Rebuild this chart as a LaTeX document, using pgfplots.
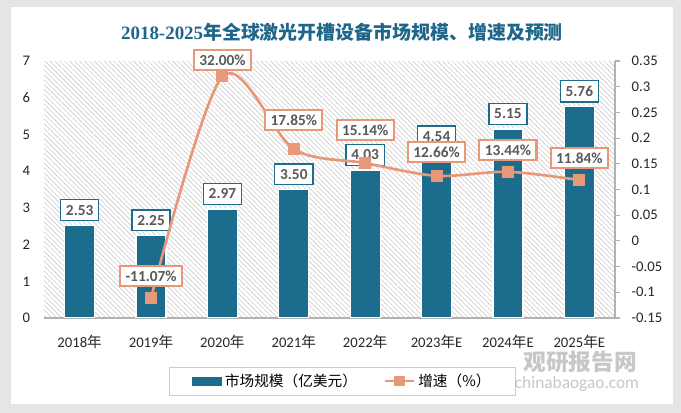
\documentclass[border=0pt]{standalone}
\usepackage{pgfplots}
\pgfplotsset{compat=1.18}
\usepackage{pgfplotstable}
\usetikzlibrary{patterns.meta}
\usepackage{fontspec}
\setmainfont{Carlito}
\newfontfamily\cjk{Noto Sans CJK SC}
\newfontfamily\tserif{Liberation Serif}
\definecolor{barc}{RGB}{28,108,142}
\definecolor{salm}{RGB}{232,152,120}
\definecolor{titlec}{RGB}{30,102,138}
\definecolor{labc}{RGB}{89,89,89}

\pgfplotstableread{
x v lab
0 2.53 2.53
1 2.25 2.25
2 2.97 2.97
3 3.50 3.50
4 4.03 4.03
5 4.54 4.54
6 5.15 5.15
7 5.76 5.76
}\bardata

\pgfplotstableread{
x g dy lab
1 -0.1107 16.5 -11.07\%
2 0.3200 12 32.00\%
3 0.1785 21.75 17.85\%
4 0.1514 24.75 15.14\%
5 0.1266 18 12.66\%
6 0.1344 16.5 13.44\%
7 0.1184 16.5 11.84\%
}\linedata

\begin{document}
\begin{tikzpicture}[x=1pt,y=1pt]
\path[use as bounding box] (0,0) rectangle (510.75,309.75);
\fill[black!10] (0,0) rectangle (510.75,309.75);
\fill[white] (8.25,6.75) rectangle (504.75,304.5);

\node[font=\bfseries\fontsize{14.2}{17}\selectfont, text=titlec] at (256.5,285.75)
  {{\tserif 2018-2025}{\cjk 年全球激光开槽设备市场规模、增速及预测}};

\begin{axis}[
  at={(33pt,71.25pt)}, anchor=south west,
  scale only axis, width=428.25pt, height=192.75pt,
  xmin=-0.5, xmax=7.5, ymin=0, ymax=7,
  ytick={0,1,2,3,4,5,6,7},
  xtick={0,1,2,3,4,5,6,7},
  xticklabels={2018{\cjk 年},2019{\cjk 年},2020{\cjk 年},2021{\cjk 年},2022{\cjk 年},2023{\cjk 年}E,2024{\cjk 年}E,2025{\cjk 年}E},
  axis x line*=bottom, axis y line*=left,
  x axis line style={draw=gray!60, line width=0.8pt, -},
  y axis line style={draw=none},
  major tick length=0pt,
  tick label style={font=\fontsize{11}{13}\selectfont, text=black!85},
  /pgf/number format/assume math mode=true,
  axis background/.style={pattern={Lines[angle=-45,distance=2.6pt,line width=0.45pt]}, pattern color=gray!40},
  xticklabel style={yshift=-9.5pt},
  yticklabel style={xshift=-7pt},
  ybar, bar width=22.5pt,
]
\addplot[fill=barc, draw=white, line width=0.9pt,
  point meta=explicit symbolic, nodes near coords,
  every node near coord/.append style={anchor=south, yshift=3pt, fill=white, draw=barc, line width=1pt,
    text=labc, font=\bfseries\fontsize{11.5}{13}\selectfont, inner xsep=4pt, inner ysep=4pt}]
  table[x=x,y=v,meta=lab]{\bardata};
\end{axis}

\begin{axis}[
  at={(33pt,71.25pt)}, anchor=south west,
  scale only axis, width=428.25pt, height=192.75pt,
  xmin=-0.5, xmax=7.5, ymin=-0.15, ymax=0.35,
  axis y line*=right, axis x line=none, xtick=\empty,
  ytick={-0.15,-0.1,-0.05,0,0.05,0.1,0.15,0.2,0.25,0.3,0.35},
  yticklabels={-0.15,-0.1,-0.05,0,0.05,0.1,0.15,0.2,0.25,0.3,0.35},
  y axis line style={draw=gray!60, line width=0.8pt, -},
  ytick style={draw=gray!60, line width=0.8pt},
  tick align=outside, major tick length=4pt,
  tick label style={font=\fontsize{11}{13}\selectfont, text=black!85},
  yticklabel style={xshift=5pt},
  legend style={at={(0.523,-0.245)}, anchor=center, legend columns=2, draw=gray!40, line width=0.6pt,
    font=\cjk\fontsize{11}{13}\selectfont, inner xsep=17pt, inner ysep=3pt,
    /tikz/every even column/.append style={column sep=18pt}},
]
\addlegendimage{legend image code/.code={\fill[barc] (0pt,-3pt) rectangle (22pt,3pt);}}
\addlegendentry{市场规模（亿美元）}
\addplot[salm, line width=2pt, smooth, mark=square*, mark size=3.5pt, mark options={solid},
  point meta=explicit symbolic,
  visualization depends on={\thisrow{dy}\as\dy},
  nodes near coords,
  every node near coord/.append style={anchor=center, yshift=\dy pt, fill=white, draw=salm, line width=1.6pt,
    text=labc, font=\bfseries\fontsize{11.5}{13}\selectfont, inner xsep=4pt, inner ysep=3.5pt},
  legend image code/.code={\draw[salm, line width=2pt, mark=square*, mark size=3pt, mark repeat=2, mark phase=2] plot coordinates {(0pt,0pt) (11pt,0pt) (22pt,0pt)};}]
  table[x=x,y=g,meta=lab]{\linedata};
\addlegendentry{增速（\%）}
\end{axis}

\node[text=gray!55, opacity=0.8, font=\cjk\bfseries\fontsize{17}{19}\selectfont] at (435,38.5) {观研报告网};
\node[text=gray!55, opacity=0.8, font=\fontsize{13}{15}\selectfont] at (432.75,22) {chinabaogao.com};
\end{tikzpicture}
\end{document}
